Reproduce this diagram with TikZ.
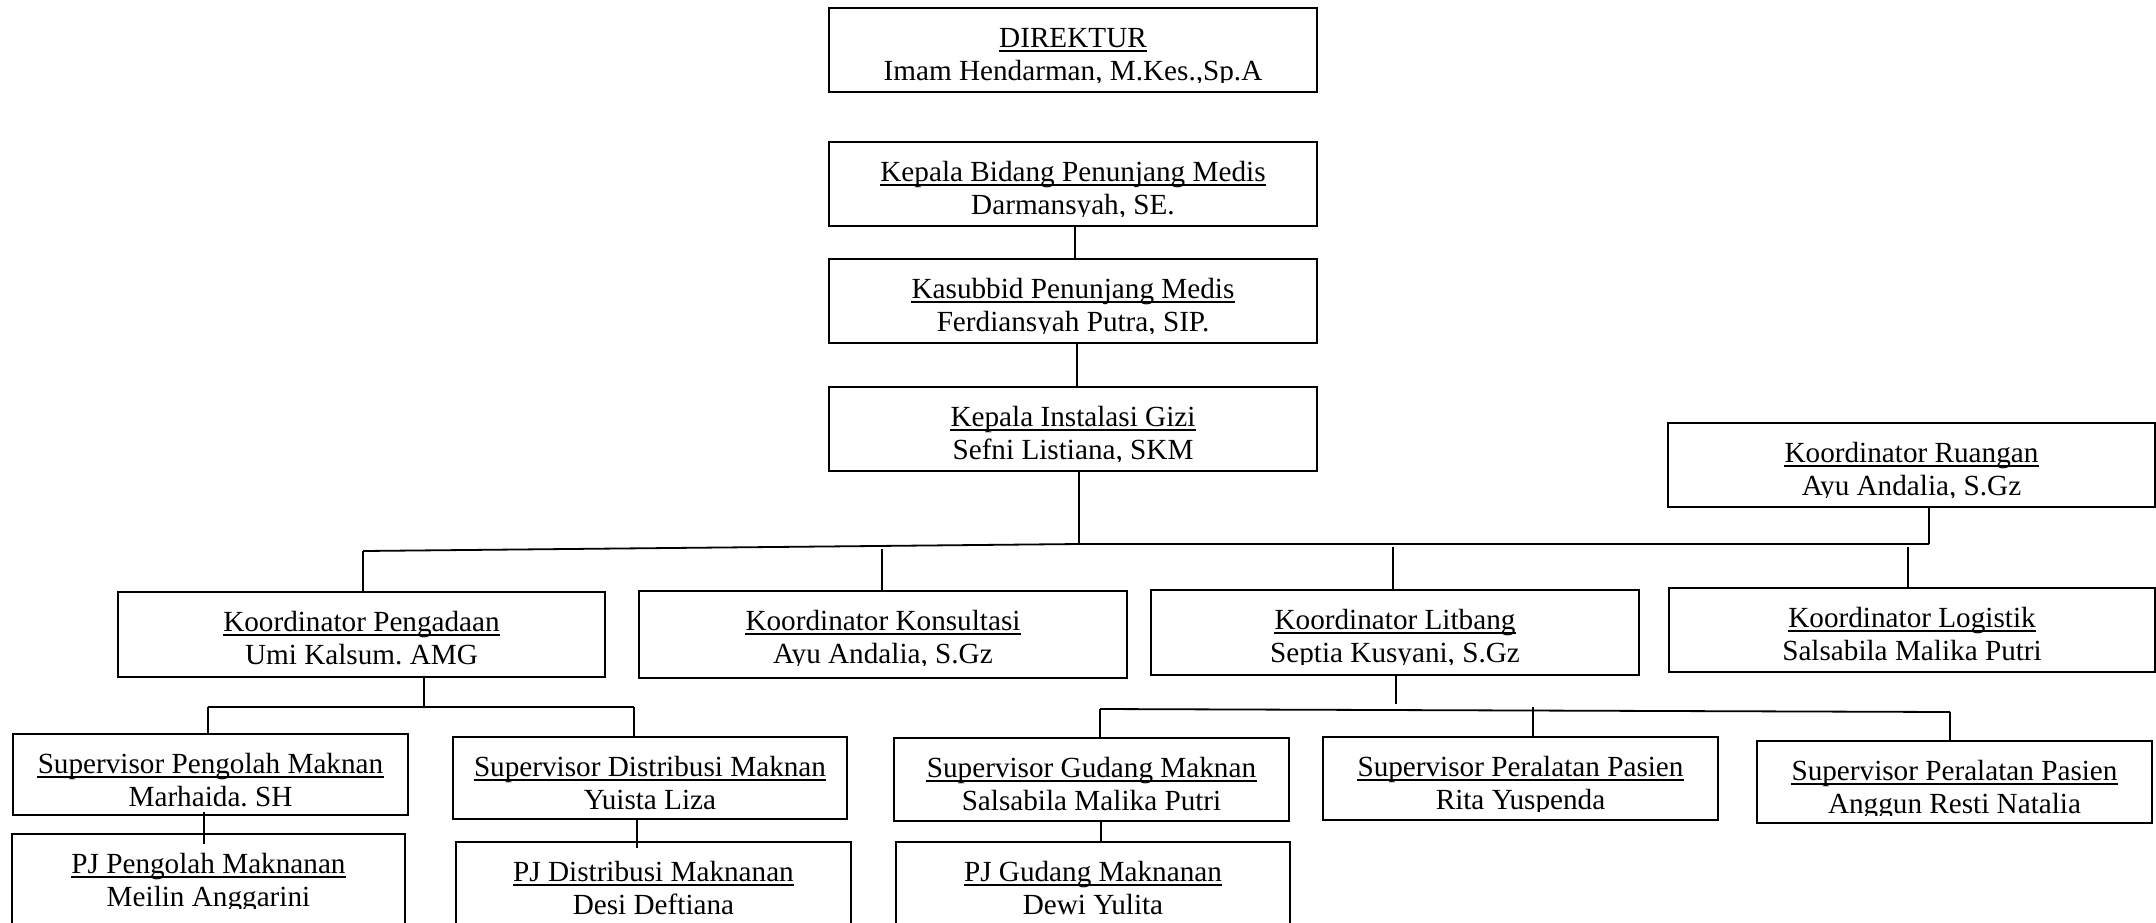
\documentclass[tikz,border=0pt]{standalone}
\usepackage{fontspec}
\setmainfont{Liberation Serif}
\frenchspacing
\usetikzlibrary{fit}
\tikzset{
  txt/.style={inner sep=0pt, anchor=base, font=\fontsize{14.6}{17}\selectfont},
  obx/.style={draw, line width=1pt, inner sep=0pt},
  ul/.style={line width=0.6pt},
  cn/.style={line width=0.6pt},
  bar/.style={line width=0.9pt}
}
\newcommand\obox[7]{%
  \begin{scope}
    \clip (#2,#3) rectangle (#4,{#3+74});
    \node[txt] (#1-t) at ({(#2+#4)/2},{#3+39}) {\frenchspacing #6};
    \node[txt] (#1-p) at ({(#2+#4)/2},{#3+72}) {\frenchspacing #7};
    \draw[ul] ([yshift=-2pt]#1-t.base west) -- ([yshift=-2pt]#1-t.base east);
  \end{scope}
  \node[obx, fit={(#2,#3) (#4,#5)}] (#1) {};
}
\begin{document}
\begin{tikzpicture}[x=0.5pt, y=-0.5pt]
\useasboundingbox (0,0) rectangle (2156,922);
\obox{dir}{829}{8}{1317}{92}{DIREKTUR}{Imam Hendarman, M.Kes.,Sp.A}
\obox{kb}{829}{142}{1317}{226}{Kepala Bidang Penunjang Medis}{Darmansyah, SE.}
\obox{kas}{829}{259}{1317}{343}{Kasubbid Penunjang Medis}{Ferdiansyah Putra, SIP.}
\obox{kig}{829}{387}{1317}{471}{Kepala Instalasi Gizi}{Sefni Listiana, SKM}
\obox{kru}{1668}{423}{2155}{507}{Koordinator Ruangan}{Ayu Andalia, S.Gz}
\obox{kpg}{118}{592}{605}{677}{Koordinator Pengadaan}{Umi Kalsum. AMG}
\obox{kko}{639}{591}{1127}{678}{Koordinator Konsultasi}{Ayu Andalia, S.Gz}
\obox{kli}{1151}{590}{1639}{675}{Koordinator Litbang}{Septia Kusyani, S.Gz}
\obox{klo}{1669}{588}{2155}{672}{Koordinator Logistik}{Salsabila Malika Putri}
\obox{spm}{13}{734}{408}{815}{Supervisor Pengolah Maknan}{Marhaida. SH}
\obox{sdm}{453}{737}{847}{819}{Supervisor Distribusi Maknan}{Yuista Liza}
\obox{sgm}{894}{738}{1289}{821}{Supervisor Gudang Maknan}{Salsabila Malika Putri}
\obox{spa}{1323}{737}{1718}{820}{Supervisor Peralatan Pasien}{Rita Yuspenda}
\obox{spb}{1757}{741}{2152}{823}{Supervisor Peralatan Pasien}{Anggun Resti Natalia}
\obox{pjp}{12}{834}{405}{930}{PJ Pengolah Maknanan}{Meilin Anggarini}
\obox{pjd}{456}{842}{851}{930}{PJ Distribusi Maknanan}{Desi Deftiana}
\obox{pjg}{896}{842}{1290}{930}{PJ Gudang Maknanan}{Dewi Yulita}
% coordinates
\coordinate (a1) at (1075,0);
\coordinate (a2) at (1077,0);
\coordinate (j0) at (1079,544);
\coordinate (bl) at (363,551);
\coordinate (br) at (1929,544);
\coordinate (c2) at (882,549);
\coordinate (c3) at (1393,547);
\coordinate (c4) at (1908,547);
\coordinate (p0) at (424,707);
\coordinate (pL) at (208,707);
\coordinate (pR) at (634,707);
\coordinate (q1) at (204,812);
\coordinate (q2) at (637,819);
\coordinate (l0) at (1396,704);
\coordinate (lL) at (1100,709);
\coordinate (lM) at (1533,707);
\coordinate (lR) at (1950,712);
\coordinate (q3) at (1101,821);
% top chain
\draw[cn] (kb.south -| a1) -- (kas.north -| a1);
\draw[cn] (kas.south -| a2) -- (kig.north -| a2);
\draw[cn] (kig.south -| j0) -- (j0);
\draw[bar] (bl) -- (j0) -- (br);
\draw[cn] (br) -- (kru.south -| br);
\draw[cn] (bl) -- (bl |- kpg.north);
\draw[cn] (c2) -- (c2 |- kko.north);
\draw[cn] (c3) -- (c3 |- kli.north);
\draw[cn] (c4) -- (c4 |- klo.north);
% Pengadaan group
\draw[cn] (kpg.south -| p0) -- (p0);
\draw[bar] (pL) -- (pR);
\draw[cn] (pL) -- (pL |- spm.north);
\draw[cn] (pR) -- (pR |- sdm.north);
\draw[cn] (q1) -- ([yshift=-5.5pt]pjp.north -| q1);
\draw[cn] (sdm.south -| q2) -- ([yshift=-3.5pt]pjd.north -| q2);
% Litbang group
\draw[cn] (kli.south -| l0) -- (l0);
\draw[bar] (lL) -- (lR);
\draw[cn] (lL) -- (lL |- sgm.north);
\draw[cn] (lM) -- (lM |- spa.north);
\draw[cn] (lR) -- (lR |- spb.north);
\draw[cn] (sgm.south -| q3) -- (pjg.north -| q3);
\end{tikzpicture}
\end{document}
